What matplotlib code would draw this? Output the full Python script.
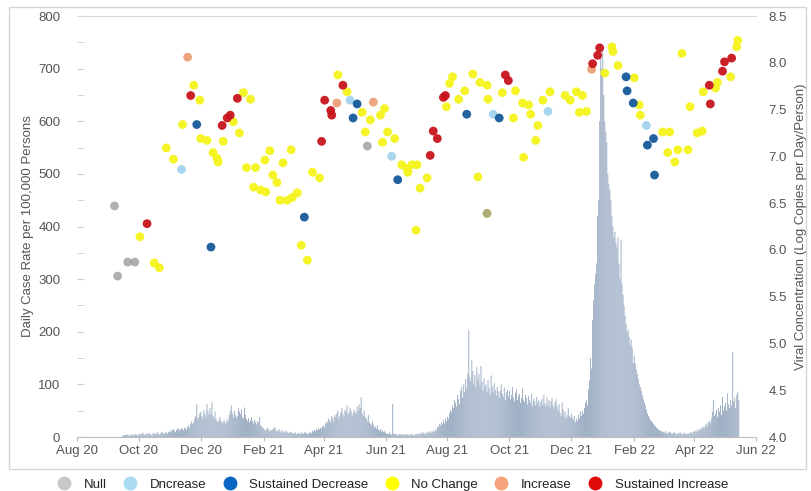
import matplotlib
matplotlib.use('Agg')
import matplotlib.pyplot as plt
import matplotlib.dates as mdates
from matplotlib.lines import Line2D
from matplotlib.patches import Rectangle
from matplotlib.ticker import MultipleLocator
import pandas as pd

plt.rcParams['font.family'] = ['Liberation Sans', 'DejaVu Sans']

# ---------------- Daily case rate (left axis), one value per day ----------------
cases_start = '2020-09-15'
cases_2020_09 = [2, 3, 4, 3, 5, 4, 3, 2, 4, 5, 4, 3, 5, 6, 4, 3]
cases_2020_10 = [5, 6, 4, 7, 8, 5, 3, 6, 7, 5, 8, 6, 4, 3, 7, 8, 6, 5, 9, 7, 4, 6, 8, 10, 7, 5, 9, 8, 6, 10, 9]
cases_2020_11 = [12, 10, 14, 15, 11, 9, 13, 15, 16, 12, 14, 17, 15, 13, 18, 16, 14, 20, 22, 17, 25, 30, 24, 28, 35, 40, 62, 33, 38, 45]
cases_2020_12 = [48, 40, 35, 52, 45, 38, 63, 50, 42, 55, 44, 66, 40, 36, 48, 35, 30, 28, 33, 38, 30, 26, 29, 32, 25, 28, 34, 30, 42, 50, 60]
cases_2021_01 = [45, 38, 50, 42, 36, 40, 55, 48, 44, 52, 38, 35, 56, 42, 34, 30, 36, 28, 32, 38, 30, 26, 33, 28, 24, 30, 27, 38, 22, 20, 18]
cases_2021_02 = [16, 14, 12, 15, 18, 13, 11, 14, 12, 15, 17, 19, 13, 10, 12, 15, 11, 9, 13, 10, 8, 12, 9, 11, 8, 7, 10, 9]
cases_2021_03 = [8, 6, 7, 9, 5, 6, 8, 7, 5, 9, 6, 7, 8, 10, 6, 7, 5, 8, 9, 7, 12, 10, 14, 11, 15, 13, 17, 14, 18, 16, 20]
cases_2021_04 = [22, 18, 25, 30, 27, 35, 32, 28, 40, 36, 30, 42, 38, 45, 50, 34, 40, 47, 55, 44, 38, 52, 48, 60, 42, 46, 56, 50, 40, 45]
cases_2021_05 = [52, 48, 44, 58, 50, 62, 55, 76, 45, 40, 50, 38, 35, 30, 42, 28, 25, 22, 30, 24, 18, 20, 16, 22, 14, 12, 15, 10, 13, 9, 11]
cases_2021_06 = [8, 6, 7, 5, 9, 6, 4, 63, 7, 5, 6, 4, 5, 3, 6, 5, 4, 6, 3, 5, 4, 6, 5, 3, 4, 5, 6, 4, 3, 5]
cases_2021_07 = [5, 6, 4, 7, 5, 8, 6, 9, 7, 5, 8, 10, 7, 9, 11, 8, 10, 12, 9, 14, 12, 20, 18, 25, 22, 28, 24, 32, 26, 35, 30]
cases_2021_08 = [38, 34, 45, 52, 48, 60, 55, 70, 65, 58, 80, 72, 62, 88, 95, 75, 100, 85, 110, 92, 120, 203, 114, 105, 146, 125, 100, 118, 95, 133, 110]
cases_2021_09 = [120, 98, 135, 105, 88, 112, 95, 100, 85, 108, 92, 80, 117, 96, 84, 102, 90, 78, 95, 86, 74, 88, 100, 82, 76, 94, 70, 85, 90, 78]
cases_2021_10 = [88, 72, 80, 95, 75, 68, 84, 90, 70, 78, 82, 65, 74, 92, 70, 66, 80, 74, 62, 78, 70, 64, 82, 58, 72, 68, 60, 76, 64, 70, 58]
cases_2021_11 = [66, 72, 60, 80, 64, 58, 75, 62, 70, 56, 68, 74, 60, 54, 66, 72, 58, 50, 62, 45, 40, 66, 52, 38, 48, 35, 42, 55, 40, 36]
cases_2021_12 = [44, 38, 32, 40, 28, 35, 30, 42, 36, 48, 40, 50, 44, 55, 65, 70, 60, 90, 108, 150, 130, 222, 260, 290, 310, 330, 420, 450, 600, 745, 700]
cases_2022_01 = [740, 650, 600, 580, 560, 500, 480, 470, 450, 420, 400, 380, 390, 370, 360, 380, 330, 300, 375, 290, 270, 250, 230, 215, 200, 205, 190, 175, 185, 170, 140]
cases_2022_02 = [155, 140, 128, 120, 110, 100, 95, 88, 80, 72, 66, 60, 52, 45, 40, 36, 32, 30, 28, 25, 22, 20, 18, 16, 14, 13, 12, 11]
cases_2022_03 = [10, 9, 8, 11, 7, 6, 9, 10, 8, 7, 6, 9, 8, 7, 5, 6, 8, 7, 9, 6, 5, 7, 8, 6, 5, 7, 6, 8, 9, 7, 10]
cases_2022_04 = [10, 12, 9, 14, 11, 15, 13, 18, 16, 20, 17, 22, 25, 20, 28, 30, 26, 35, 48, 70, 40, 45, 52, 38, 55, 48, 60, 42, 76, 50]
cases_2022_05 = [58, 65, 50, 83, 62, 55, 70, 60, 161, 68, 75, 55, 80, 86, 70]

case_rate = (cases_2020_09 + cases_2020_10 + cases_2020_11 + cases_2020_12 +
             cases_2021_01 + cases_2021_02 + cases_2021_03 + cases_2021_04 +
             cases_2021_05 + cases_2021_06 + cases_2021_07 + cases_2021_08 +
             cases_2021_09 + cases_2021_10 + cases_2021_11 + cases_2021_12 +
             cases_2022_01 + cases_2022_02 + cases_2022_03 + cases_2022_04 +
             cases_2022_05)
case_dates = pd.date_range(cases_start, periods=len(case_rate), freq='D')

# ---------------- Viral concentration samples (right axis) ----------------
viral_dates = [
    "2020-09-07", "2020-09-10", "2020-09-20", "2020-09-27", "2020-10-02", "2020-10-09",
    "2020-10-16", "2020-10-21", "2020-10-28", "2020-11-04", "2020-11-12", "2020-11-13",
    "2020-11-18", "2020-11-21", "2020-11-24", "2020-11-27", "2020-11-30", "2020-12-01",
    "2020-12-07", "2020-12-11", "2020-12-13", "2020-12-17", "2020-12-18", "2020-12-22",
    "2020-12-23", "2020-12-27", "2020-12-30", "2021-01-02", "2021-01-06", "2021-01-08",
    "2021-01-12", "2021-01-15", "2021-01-19", "2021-01-22", "2021-01-24", "2021-01-29",
    "2021-02-02", "2021-02-03", "2021-02-07", "2021-02-10", "2021-02-14", "2021-02-17",
    "2021-02-20", "2021-02-24", "2021-02-28", "2021-03-01", "2021-03-06", "2021-03-10",
    "2021-03-13", "2021-03-16", "2021-03-21", "2021-03-28", "2021-03-30", "2021-04-02",
    "2021-04-08", "2021-04-09", "2021-04-14", "2021-04-15", "2021-04-20", "2021-04-24",
    "2021-04-27", "2021-04-30", "2021-05-04", "2021-05-09", "2021-05-12", "2021-05-14",
    "2021-05-17", "2021-05-20", "2021-05-27", "2021-05-29", "2021-05-31", "2021-06-03",
    "2021-06-07", "2021-06-10", "2021-06-13", "2021-06-17", "2021-06-22", "2021-06-23",
    "2021-06-27", "2021-07-01", "2021-07-02", "2021-07-05", "2021-07-12", "2021-07-15",
    "2021-07-18", "2021-07-22", "2021-07-28", "2021-07-30", "2021-07-31", "2021-08-03",
    "2021-08-06", "2021-08-12", "2021-08-18", "2021-08-20", "2021-08-26", "2021-08-31",
    "2021-09-02", "2021-09-09", "2021-09-09", "2021-09-09", "2021-09-10", "2021-09-15",
    "2021-09-21", "2021-09-24", "2021-09-27", "2021-09-30", "2021-10-05", "2021-10-07",
    "2021-10-14", "2021-10-15", "2021-10-20", "2021-10-22", "2021-10-27", "2021-10-29",
    "2021-11-03", "2021-11-08", "2021-11-10", "2021-11-25", "2021-11-30", "2021-12-06",
    "2021-12-09", "2021-12-12", "2021-12-16", "2021-12-21", "2021-12-22", "2021-12-27",
    "2021-12-29", "2022-01-03", "2022-01-10", "2022-01-11", "2022-01-16", "2022-01-24",
    "2022-01-25", "2022-01-31", "2022-02-01", "2022-02-06", "2022-02-07", "2022-02-13",
    "2022-02-14", "2022-02-20", "2022-02-21", "2022-03-01", "2022-03-06", "2022-03-08",
    "2022-03-13", "2022-03-16", "2022-03-20", "2022-03-26", "2022-03-28", "2022-04-04",
    "2022-04-09", "2022-04-10", "2022-04-16", "2022-04-17", "2022-04-22", "2022-04-24",
    "2022-04-29", "2022-05-01", "2022-05-07", "2022-05-08", "2022-05-13", "2022-05-14",
]
viral_values = [
    6.47, 5.72, 5.87, 5.87, 6.14, 6.28,
    5.86, 5.81, 7.09, 6.97, 6.86, 7.34,
    8.06, 7.65, 7.76, 7.34, 7.60, 7.19,
    7.17, 6.03, 7.04, 6.98, 6.94, 7.33,
    7.16, 7.41, 7.44, 7.37, 7.62, 7.25,
    7.68, 6.88, 7.61, 6.67, 6.88, 6.64,
    6.96, 6.62, 7.06, 6.80, 6.72, 6.53,
    6.93, 6.53, 7.07, 6.56, 6.61, 6.05,
    6.35, 5.89, 6.83, 6.77, 7.16, 7.60,
    7.49, 7.44, 7.57, 7.87, 7.76, 7.69,
    7.60, 7.41, 7.56, 7.47, 7.26, 7.11,
    7.39, 7.58, 7.44, 7.15, 7.51, 7.26,
    7.00, 7.19, 6.75, 6.91, 6.87, 6.83,
    6.91, 6.21, 6.91, 6.66, 6.77, 7.01,
    7.27, 7.19, 7.63, 7.65, 7.53, 7.78,
    7.85, 7.61, 7.70, 7.45, 7.88, 6.78,
    7.79, 7.76, 6.39, 6.39, 7.61, 7.45,
    7.41, 7.68, 7.87, 7.81, 7.41, 7.70,
    7.57, 6.99, 7.55, 7.45, 7.17, 7.33,
    7.60, 7.48, 7.69, 7.65, 7.60, 7.69,
    7.47, 7.65, 7.48, 7.93, 7.99, 8.08,
    8.16, 7.89, 8.17, 8.12, 7.97, 7.85,
    7.70, 7.57, 7.84, 7.55, 7.44, 7.33,
    7.12, 7.19, 6.80, 7.26, 7.04, 7.26,
    6.94, 7.07, 8.10, 7.07, 7.53, 7.25,
    7.27, 7.69, 7.76, 7.56, 7.73, 7.79,
    7.91, 8.01, 7.85, 8.05, 8.17, 8.24,
]
NL, DC, SD, NC, IN, SI = "Null", "Dncrease", "Sustained Decrease", "No Change", "Increase", "Sustained Increase"
viral_status = [
    NL, NL, NL, NL, NC, SI,
    NC, NC, NC, NC, DC, NC,
    IN, SI, NC, SD, NC, NC,
    NC, SD, NC, NC, NC, SI,
    NC, SI, SI, NC, SI, NC,
    NC, NC, NC, NC, NC, NC,
    NC, NC, NC, NC, NC, NC,
    NC, NC, NC, NC, NC, NC,
    SD, NC, NC, NC, SI, SI,
    SI, SI, IN, NC, SI, NC,
    DC, SD, SD, NC, NC, NL,
    NC, IN, NC, NC, NC, NC,
    DC, NC, SD, NC, NC, NC,
    NC, NC, NC, NC, NC, SI,
    SI, SI, SI, SI, NC, NC,
    NC, NC, NC, SD, NC, NC,
    NC, NC, NC, NL, NC, DC,
    SD, NC, SI, SI, NC, NC,
    NC, NC, NC, NC, NC, NC,
    NC, DC, NC, NC, NC, NC,
    NC, NC, NC, IN, SI, SI,
    SI, NC, NC, NC, NC, SD,
    SD, SD, NC, NC, NC, DC,
    SD, SD, SD, NC, NC, NC,
    NC, NC, NC, NC, NC, NC,
    NC, NC, SI, SI, NC, NC,
    SI, SI, NC, SI, NC, NC,
]

categories = [NL, DC, SD, NC, IN, SI]
legend_colors = {NL: '#c8c8c8', DC: '#a9dcf2', SD: '#0a66c2', NC: '#ffff00', IN: '#f5a47c', SI: '#e00a0a'}
plot_colors = {NL: '#959595', DC: '#a3d4ee', SD: '#16599a', NC: '#f4f41c', IN: '#eea078', SI: '#c8141c'}
draw_order = [NC, DC, IN, SD, SI, NL]

# ---------------- Figure ----------------
fig = plt.figure(figsize=(8.12, 4.91), dpi=100)
fig.patches.append(Rectangle((9 / 812, 22 / 491), 797 / 812, 462 / 491, transform=fig.transFigure,
                             fill=False, edgecolor='#d6d6d6', linewidth=1.0))

ax = fig.add_axes([77 / 812, 54 / 491, 679 / 812, 421 / 491])
ax.bar(case_dates, case_rate, width=0.9, color='#8ea2bc', alpha=0.9, linewidth=0,
       snap=False, antialiased=True, zorder=2)
ax.set_ylim(0, 800)
ax.set_xlim(pd.Timestamp('2020-08-01'), pd.Timestamp('2022-06-01'))

grey = '#555555'
ax.yaxis.set_major_locator(MultipleLocator(100))
ax.yaxis.set_minor_locator(MultipleLocator(50))
ax.tick_params(axis='y', which='both', direction='in', length=5, color='#d0d0d0',
               labelsize=9.5, labelcolor=grey, pad=12)
ax.tick_params(axis='y', which='minor', labelleft=False)
month_ticks = pd.date_range('2020-08-01', '2022-06-01', freq='2MS')
ax.set_xticks(month_ticks)
ax.xaxis.set_major_formatter(mdates.DateFormatter('%b %y'))
ax.tick_params(axis='x', direction='out', length=3, color='#bbbbbb', labelsize=9.5,
               labelcolor=grey, pad=3)
for s in ['left', 'right']:
    ax.spines[s].set_visible(False)
ax.spines['top'].set_color('#dcdcdc')
ax.spines['bottom'].set_color('#bdbdbd')
ax.set_ylabel('Daily Case Rate per 100,000 Persons', fontsize=9.5, color=grey, labelpad=3)
ax.set_facecolor('white')

ax2 = ax.twinx()
ax2.set_ylim(4.0, 8.5)
ax2.yaxis.set_major_locator(MultipleLocator(0.5))
ax2.yaxis.set_major_formatter(matplotlib.ticker.FormatStrFormatter('%.1f'))
ax2.tick_params(axis='y', length=0, labelsize=9.5, labelcolor=grey, pad=9)
for s in ['left', 'right', 'top', 'bottom']:
    ax2.spines[s].set_visible(False)
ax2.set_ylabel('Viral Concentration (Log Copies per Day/Person)', fontsize=9.5, color=grey, labelpad=6)

vd = pd.to_datetime(viral_dates)
for cat in draw_order:
    xs = [d for d, c in zip(vd, viral_status) if c == cat]
    ys = [v for v, c in zip(viral_values, viral_status) if c == cat]
    ax2.scatter(xs, ys, s=40, color=plot_colors[cat], edgecolors='none',
                alpha=0.75 if cat == NL else 0.95, zorder=3)

handles = [Line2D([], [], marker='o', linestyle='', markersize=10,
                  markerfacecolor=legend_colors[c], markeredgecolor='none') for c in categories]
fig.legend(handles, categories, loc='center', bbox_to_anchor=(0.483, 0.013), ncol=6,
           frameon=False, columnspacing=1.15, handlelength=1.2, handletextpad=0.9,
           fontsize=9.5, labelcolor='#222222', borderaxespad=0, borderpad=0)

fig.savefig('out.png', dpi=100)
